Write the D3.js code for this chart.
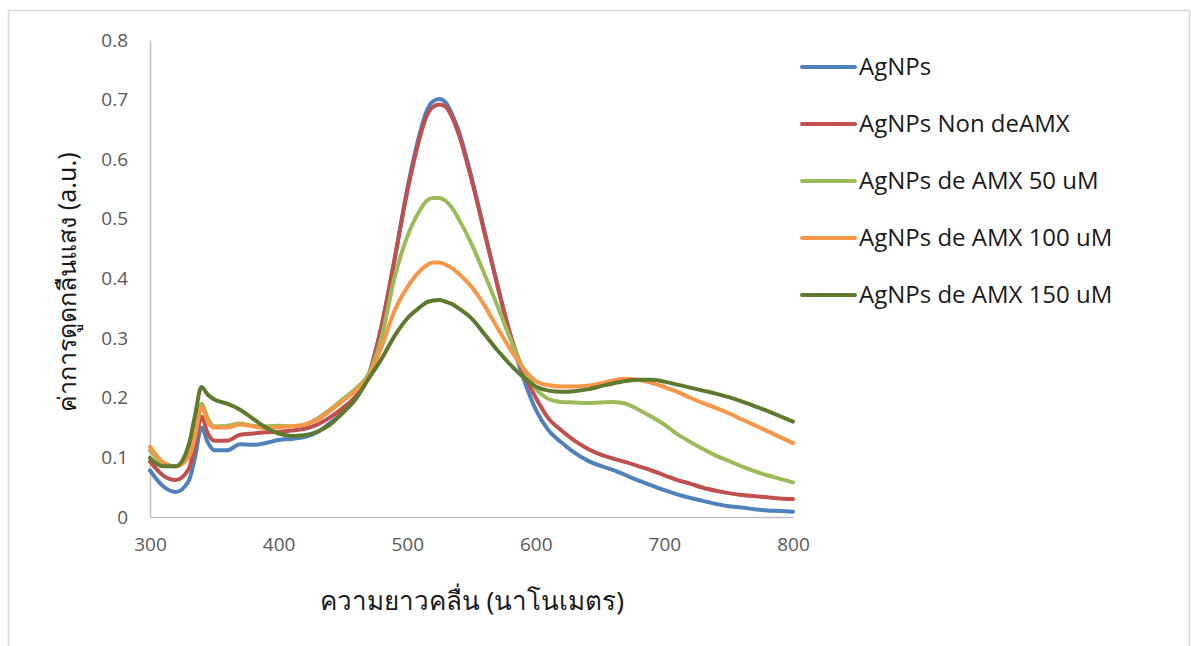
<!DOCTYPE html>
<html>
<head>
<meta charset="utf-8">
<script src="https://cdn.jsdelivr.net/npm/d3@7"></script>
<style>
  body { margin: 0; background: #fff; }
  svg { display: block; }
</style>
</head>
<body>
<svg id="chart" width="1191" height="646"></svg>
<script>
// wavelengths (nm)
const wavelengths = [300,310,320,330,335,340,345,350,360,370,380,390,400,410,420,430,440,450,460,470,480,490,500,510,515,520,525,530,535,540,550,560,570,580,590,600,610,620,630,640,650,660,670,680,690,700,710,720,730,740,750,760,770,780,790,800];

const agnps = [0.078,0.052,0.042,0.06,0.10,0.150,0.125,0.112,0.112,0.122,0.121,0.124,0.129,0.131,0.134,0.142,0.158,0.175,0.200,0.238,0.32,0.43,0.55,0.645,0.68,0.697,0.701,0.695,0.675,0.648,0.57,0.48,0.39,0.305,0.235,0.18,0.145,0.125,0.108,0.095,0.086,0.079,0.07,0.061,0.053,0.045,0.038,0.032,0.027,0.022,0.018,0.016,0.013,0.011,0.010,0.009];

const nonDeAmx = [0.093,0.07,0.062,0.08,0.12,0.168,0.14,0.128,0.128,0.138,0.14,0.142,0.143,0.145,0.148,0.155,0.167,0.183,0.203,0.238,0.32,0.43,0.545,0.638,0.672,0.688,0.692,0.688,0.67,0.642,0.566,0.478,0.39,0.308,0.245,0.2,0.165,0.145,0.128,0.115,0.105,0.098,0.092,0.085,0.078,0.07,0.062,0.056,0.049,0.044,0.04,0.037,0.035,0.033,0.031,0.030];

const amx50 = [0.112,0.09,0.085,0.105,0.14,0.19,0.165,0.152,0.153,0.157,0.153,0.152,0.153,0.152,0.155,0.165,0.18,0.198,0.215,0.24,0.30,0.40,0.47,0.515,0.53,0.535,0.535,0.53,0.518,0.50,0.458,0.408,0.355,0.30,0.25,0.215,0.198,0.193,0.192,0.191,0.192,0.193,0.19,0.18,0.168,0.155,0.139,0.126,0.114,0.103,0.094,0.085,0.077,0.07,0.064,0.058];

const amx100 = [0.118,0.092,0.085,0.1,0.135,0.185,0.16,0.15,0.15,0.155,0.152,0.149,0.151,0.152,0.155,0.163,0.178,0.195,0.212,0.235,0.285,0.345,0.385,0.413,0.422,0.427,0.427,0.423,0.417,0.408,0.386,0.355,0.318,0.282,0.25,0.228,0.221,0.219,0.219,0.22,0.224,0.229,0.232,0.23,0.225,0.218,0.21,0.2,0.191,0.183,0.174,0.164,0.154,0.144,0.134,0.124];

const amx150 = [0.099,0.085,0.085,0.12,0.17,0.218,0.205,0.197,0.19,0.18,0.165,0.15,0.14,0.136,0.137,0.143,0.155,0.175,0.198,0.232,0.265,0.303,0.333,0.352,0.36,0.363,0.364,0.361,0.357,0.35,0.333,0.307,0.28,0.256,0.235,0.219,0.212,0.21,0.211,0.214,0.219,0.224,0.228,0.23,0.23,0.227,0.222,0.217,0.212,0.207,0.201,0.194,0.186,0.178,0.169,0.16];

const seriesNames = ["AgNPs", "AgNPs Non deAMX", "AgNPs de AMX 50 uM", "AgNPs de AMX 100 uM", "AgNPs de AMX 150 uM"];
const seriesValues = [agnps, nonDeAmx, amx50, amx100, amx150];
const seriesColors = ["#4f81bd", "#c0504d", "#9bbb59", "#f79646", "#5e7a2e"];

const xTicks = [300, 400, 500, 600, 700, 800];
const yTicks = [0, 0.1, 0.2, 0.3, 0.4, 0.5, 0.6, 0.7, 0.8];

const svg = d3.select("#chart");

// outer frame
svg.append("rect")
  .attr("x", 8.5).attr("y", 10.5)
  .attr("width", 1181).attr("height", 660)
  .attr("fill", "#fff")
  .attr("stroke", "#d9d9d9")
  .attr("stroke-width", 1.5);

const x = d3.scaleLinear().domain([300, 800]).range([150, 793]);
const y = d3.scaleLinear().domain([0, 0.8]).range([517, 40]);

// axes
const xAxis = svg.append("g")
  .attr("transform", "translate(0,517)")
  .call(d3.axisBottom(x).tickValues(xTicks).tickSize(0).tickPadding(21).tickFormat(d3.format("d")));
const yAxis = svg.append("g")
  .attr("transform", "translate(150,0)")
  .call(d3.axisLeft(y).tickValues(yTicks).tickSize(0).tickPadding(22).tickFormat(d => d === 0 ? "0" : d3.format(".1f")(d)));

[xAxis, yAxis].forEach(g => {
  g.select(".domain").attr("stroke", "#bfbfbf").attr("stroke-width", 1.5);
  g.selectAll("text")
    .attr("fill", "#595959")
    .style("font-family", "'Open Sans', 'Noto Sans', sans-serif")
    .style("font-size", "19px");
});

// lines
const line = d3.line()
  .x((d, i) => x(wavelengths[i]))
  .y(d => y(d))
  .curve(d3.curveMonotoneX);

svg.append("g")
  .selectAll("path")
  .data(seriesValues)
  .enter()
  .append("path")
  .attr("d", d => line(d))
  .attr("fill", "none")
  .attr("stroke", (d, i) => seriesColors[i])
  .attr("stroke-width", 4)
  .attr("stroke-linejoin", "round")
  .attr("stroke-linecap", "round");

// axis titles
svg.append("text")
  .attr("x", 472).attr("y", 610)
  .attr("text-anchor", "middle")
  .attr("fill", "#1a1a1a")
  .style("font-family", "'Noto Sans', 'DejaVu Sans', sans-serif")
  .style("font-size", "26px")
  .text("ความยาวคลื่น (นาโนเมตร)");

svg.append("text")
  .attr("transform", "translate(76,282) rotate(-90)")
  .attr("text-anchor", "middle")
  .attr("fill", "#1a1a1a")
  .style("font-family", "'Noto Sans', 'DejaVu Sans', sans-serif")
  .style("font-size", "25px")
  .text("ค่าการดูดกลืนแสง (a.u.)");

// legend
const legend = svg.append("g")
  .selectAll("g")
  .data(seriesNames)
  .enter()
  .append("g")
  .attr("transform", (d, i) => "translate(802," + (67 + i * 57) + ")");

legend.append("line")
  .attr("x1", 0).attr("x2", 53)
  .attr("stroke", (d, i) => seriesColors[i])
  .attr("stroke-width", 4)
  .attr("stroke-linecap", "round");

legend.append("text")
  .attr("x", 57).attr("dy", "0.35em")
  .attr("fill", "#1a1a1a")
  .style("font-family", "'Open Sans', 'Noto Sans', sans-serif")
  .style("font-size", "24px")
  .text(d => d);
</script>
</body>
</html>
